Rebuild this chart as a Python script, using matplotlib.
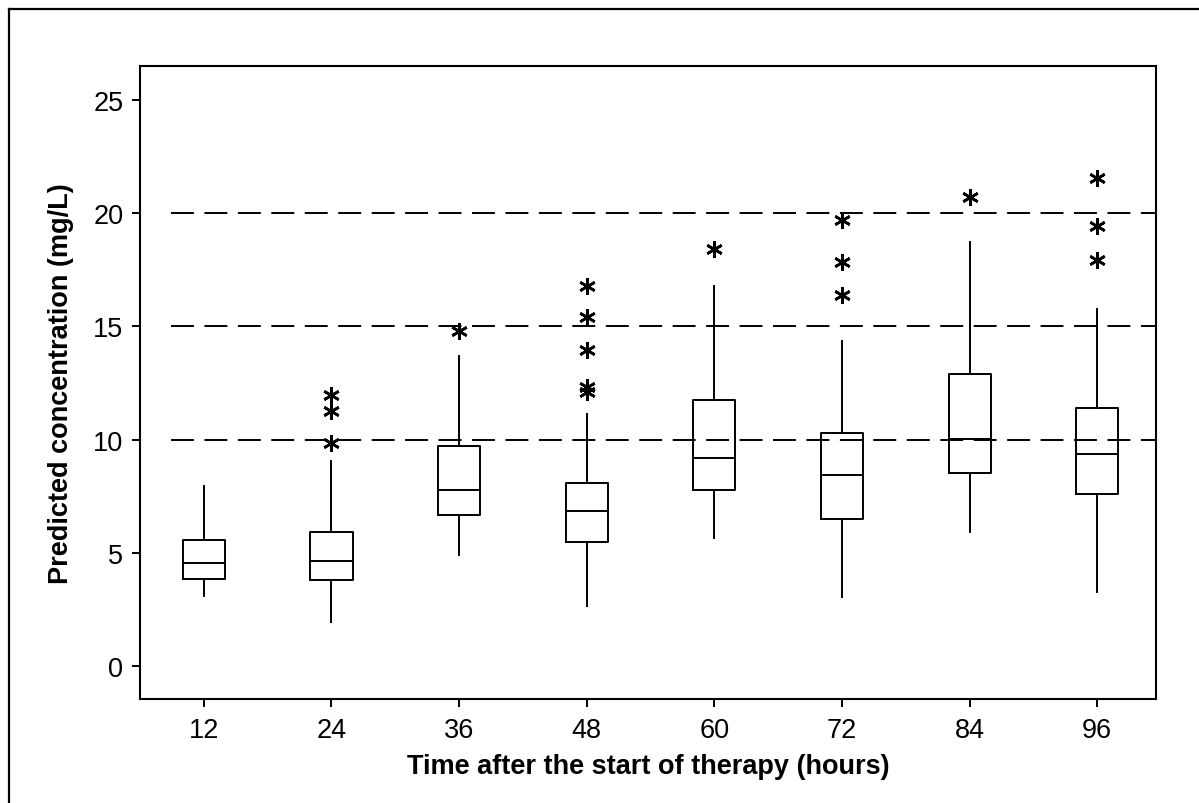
import numpy as np
import matplotlib
matplotlib.use('Agg')
from matplotlib import pyplot as plt
from matplotlib.lines import Line2D

plt.rcParams['font.family'] = ['Liberation Sans', 'DejaVu Sans']

# time points (hours) and box statistics (mg/L)
times = [12, 24, 36, 48, 60, 72, 84, 96]
whislo = [3.12, 1.95, 4.89, 2.67, 5.67, 3.06, 5.94, 3.27]
q1 = [3.87, 3.81, 6.69, 5.48, 7.80, 6.51, 8.55, 7.61]
med = [4.55, 4.65, 7.77, 6.87, 9.19, 8.44, 10.02, 9.38]
q3 = [5.58, 5.91, 9.72, 8.07, 11.75, 10.28, 12.89, 11.41]
whishi = [7.96, 9.07, 13.68, 11.12, 16.78, 14.36, 18.70, 15.75]
outliers = [[],
            [9.87, 11.25, 11.99],
            [14.78],
            [12.10, 12.31, 13.97, 15.39, 16.76],
            [18.39],
            [16.37, 17.84, 19.70],
            [20.71],
            [17.91, 19.42, 21.55]]
ref_levels = [10, 15, 20]

stats = []
for i in range(len(times)):
    stats.append({'whislo': whislo[i], 'q1': q1[i], 'med': med[i],
                  'q3': q3[i], 'whishi': whishi[i], 'fliers': outliers[i]})

fig = plt.figure(figsize=(11.99, 8.04), dpi=100)
ax = fig.add_axes([140/1199, 1 - 700/804, 1016/1199, 633/804])

lw = 1.4
fs = 19.5
pos = np.arange(1, len(times) + 1)
ax.bxp(stats, positions=pos, widths=0.33, showcaps=False,
       boxprops=dict(color='black', linewidth=lw),
       medianprops=dict(color='black', linewidth=lw),
       whiskerprops=dict(color='black', linewidth=lw),
       flierprops=dict(marker=(6, 2, 0), markersize=12, markeredgecolor='black',
                       markeredgewidth=1.9, linestyle='none'))

for lev in ref_levels:
    ax.axhline(lev, xmin=0.031, xmax=1, color='black', linewidth=1.4,
               linestyle=(0, (11.8, 5.4)), zorder=0)

ax.set_xlim(0.5, 8.46)
ax.set_ylim(-1.44, 26.48)
ax.set_yticks([0, 5, 10, 15, 20, 25])
ax.set_xticks(pos)
ax.set_xticklabels([str(t) for t in times])
ax.tick_params(axis='both', direction='out', length=6, width=1.4, labelsize=fs)
ax.tick_params(axis='x', pad=7)
ax.tick_params(axis='y', pad=6)
for sp in ax.spines.values():
    sp.set_linewidth(1.5)

ax.set_xlabel('Time after the start of therapy (hours)', fontsize=fs, fontweight='bold', labelpad=7)
ax.set_ylabel('Predicted concentration (mg/L)', fontsize=fs, fontweight='bold', labelpad=14)

# outer frame (only left and top edges fall inside the image)
fig.add_artist(Line2D([9/1199, 9/1199], [0, 1 - 10/804], color='black', linewidth=1.6))
fig.add_artist(Line2D([9/1199, 1], [1 - 10/804, 1 - 10/804], color='black', linewidth=1.6))

fig.savefig('out.png', dpi=100)
